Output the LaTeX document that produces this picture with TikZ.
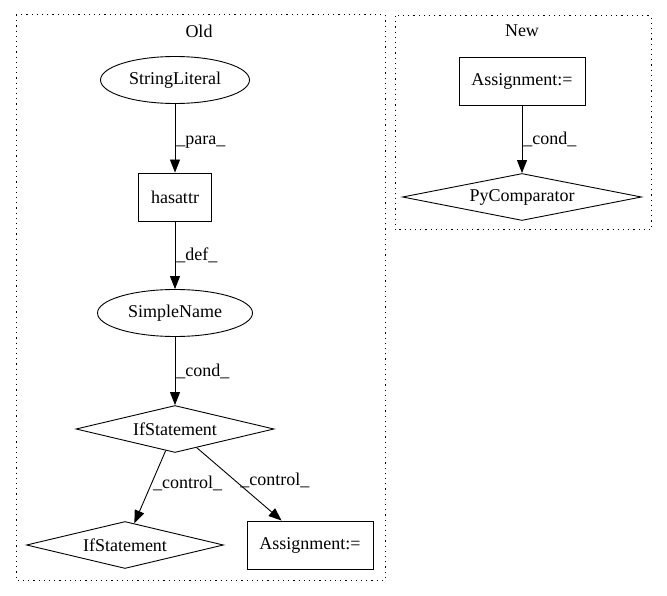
\documentclass[tikz,border=0pt]{standalone}
\usepackage{fontspec}
\setmainfont{Liberation Serif}
\usetikzlibrary{arrows.meta,shapes.geometric}

\begin{document}
\begin{tikzpicture}[
    x=1pt, y=-1pt,
    every node/.style={color=black, font=\fontsize{18}{20}\selectfont},
    cluster/.style={line width=1pt, dash pattern=on 1.2pt off 4pt},
    oval node/.style={draw, ellipse, line width=0.9pt, inner sep=0pt, minimum height=47pt},
    box node/.style={draw, rectangle, line width=0.9pt, inner sep=0pt, minimum height=48pt},
    cond node/.style={draw, diamond, shape aspect=4, line width=0.9pt, inner sep=0pt, minimum height=47pt},
    flow/.style={line width=0.9pt, -{Triangle[length=13pt,width=10pt]}},
    flow label/.style={anchor=west, inner sep=1pt}
    ]

    \useasboundingbox (0,0) rectangle (667,596);

    % clusters
    \draw[cluster] (16,15) rectangle (385,580);
    \node (oldlabel) at (199,31) {Old};
    \draw[cluster] (395,16) rectangle (651,230);
    \node (newlabel) at (522,31) {New};

    % old
    \node[oval node, minimum width=149pt] (stringliteral) at (175,80) {StringLiteral};
    \node[box node, minimum width=73pt] (hasattr) at (175,197) {hasattr};
    \node[oval node, minimum width=155pt] (simplename) at (175,313) {SimpleName};
    \node[cond node, minimum width=198pt] (ifstmt) at (175,429) {IfStatement};
    \node[cond node, minimum width=197pt] (ifstmtb) at (125,545) {IfStatement};
    \node[box node, minimum width=126pt] (assignold) at (310,545) {Assignment:=};

    \draw[flow] (stringliteral) -- (hasattr) node[flow label, pos=0.55] {\_para\_};
    \draw[flow] (hasattr) -- (simplename) node[flow label, pos=0.5] {\_def\_};
    \draw[flow] (simplename) -- (ifstmt) node[flow label, pos=0.5] {\_cond\_};
    \draw[flow] (ifstmt) -- (ifstmtb) node[flow label, pos=0.45] {\_control\_};
    \draw[flow] (ifstmt) -- (assignold) node[flow label, pos=0.45, xshift=4pt] {\_control\_};

    % new
    \node[box node, minimum width=126pt] (assignnew) at (522,81) {Assignment:=};
    \node[cond node, minimum width=239pt] (pycomp) at (522,197) {PyComparator};

    \draw[flow] (assignnew) -- (pycomp) node[flow label, pos=0.5] {\_cond\_};

\end{tikzpicture}
\end{document}
